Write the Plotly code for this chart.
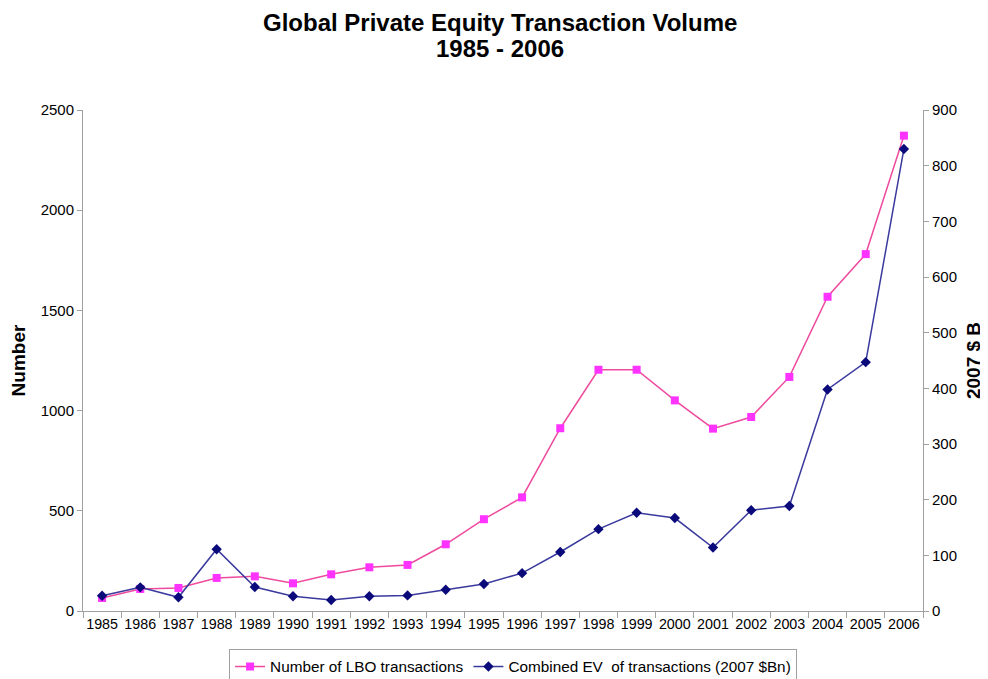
import plotly.graph_objects as go

years = [str(y) for y in range(1985, 2007)]
lbo_count = [65, 110, 115, 165, 173, 138, 183, 218, 230, 333, 458, 567, 912, 1204, 1204,
             1051, 910, 968, 1168, 1568, 1781, 2372]
ev_bn = [27.5, 42.5, 24.6, 111, 43, 26.4, 19.8, 26.4, 28, 38.3, 48.5, 68, 106, 147, 176.6,
         167, 114, 181, 188.6, 398, 447, 830]
title_lines = ["Global Private Equity Transaction Volume", "1985 - 2006"]

font_family = "Liberation Sans, Arial, sans-serif"

fig = go.Figure()
fig.add_trace(go.Scatter(
    x=years, y=lbo_count, name="Number of LBO transactions",
    mode="lines+markers",
    line=dict(color="#EE4A9E", width=1.5),
    marker=dict(symbol="square", size=8, color="#FF33FF"),
    yaxis="y"))
fig.add_trace(go.Scatter(
    x=years, y=ev_bn, name="Combined EV  of transactions (2007 $Bn)",
    mode="lines+markers",
    line=dict(color="#3A3A9E", width=1.5),
    marker=dict(symbol="diamond", size=8, color="#0A0A7A"),
    yaxis="y2"))

fig.update_layout(
    width=980, height=671,
    paper_bgcolor="white", plot_bgcolor="white",
    margin=dict(l=75, r=65, t=102, b=68, autoexpand=False),
    font=dict(family=font_family, size=14, color="black"),
    xaxis=dict(type="category", range=[-0.5, 21.5], showgrid=False, automargin=False,
               showline=True, linecolor="#A0A0A0", linewidth=1, tickangle=0,
               ticks="outside", tickson="boundaries", ticklen=6, tickcolor="#A0A0A0",
               tickfont=dict(size=14.3)),
    yaxis=dict(range=[0, 2500], dtick=500, showgrid=False, zeroline=False, automargin=False,
               showline=True, linecolor="#A0A0A0", linewidth=1,
               ticks="outside", ticklen=5, tickcolor="#A0A0A0",
               title=dict(text="<b>Number</b>", font=dict(size=19), standoff=16),
               tickfont=dict(size=15)),
    yaxis2=dict(range=[0, 900], dtick=100, overlaying="y", side="right", automargin=False,
                showgrid=False, zeroline=False,
                showline=True, linecolor="#A0A0A0", linewidth=1,
                ticks="outside", ticklen=5, tickcolor="#A0A0A0",
                title=dict(text="<b>2007 $ B</b>", font=dict(size=19), standoff=10),
                tickfont=dict(size=15)),
    legend=dict(orientation="h", x=0.512, xanchor="center", y=-0.076, yanchor="top",
                bordercolor="#A0A0A0", borderwidth=1, font=dict(size=15.3),
                itemwidth=30, tracegroupgap=0),
    showlegend=True,
)

fig.add_annotation(text="<b>" + title_lines[0] + "</b>", xref="paper", yref="paper",
                   x=0.497, y=(603 - 14) / 501, xanchor="center", yanchor="middle",
                   showarrow=False, font=dict(size=24, color="black"))
fig.add_annotation(text="<b>" + title_lines[1] + "</b>", xref="paper", yref="paper",
                   x=0.497, y=(603 - 40) / 501, xanchor="center", yanchor="middle",
                   showarrow=False, font=dict(size=24, color="black"))

fig.write_html("out.html")
